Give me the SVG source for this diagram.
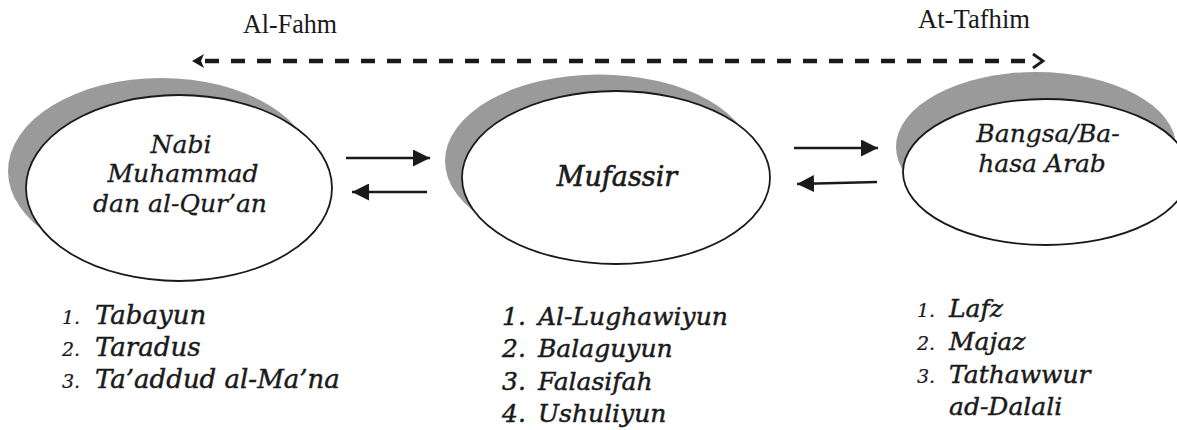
<svg xmlns="http://www.w3.org/2000/svg" width="1177" height="430" viewBox="0 0 1177 430">
<style>
.shadow{fill:#9a9a9a;stroke:none}
.node{fill:#fff;stroke:#1a1a1a;stroke-width:1.8}
.nt{font-family:"DejaVu Serif",serif;font-style:italic;font-size:25px;fill:#1a1a1a;stroke:#1a1a1a;stroke-width:0.3;text-anchor:middle}
.lt{font-family:"DejaVu Serif",serif;font-style:italic;font-size:25px;fill:#1a1a1a;stroke:#1a1a1a;stroke-width:0.45}
.num{font-size:19px;stroke-width:0.2}
.top{font-family:"Liberation Serif",serif;font-size:27px;fill:#1a1a1a}
.arr{stroke:#1a1a1a;stroke-width:2.4;fill:none}
.dash{stroke:#1a1a1a;stroke-width:4.5;fill:none;stroke-dasharray:14 12}
</style>
<defs>
<marker id="ah2" viewBox="0 0 10 10" refX="10" refY="5" markerWidth="17" markerHeight="17" markerUnits="userSpaceOnUse" orient="auto">
<path d="M0,0 L10,5 L0,10 z" fill="#1a1a1a"/>
</marker>
</defs>

<g id="node-nabi">
<ellipse class="shadow" cx="161" cy="171" rx="153" ry="93"/>
<ellipse class="node" cx="179" cy="188" rx="153" ry="93"/>
<text class="nt" x="181" y="153">Nabi</text>
<text class="nt" x="183" y="182">Muhammad</text>
<text class="nt" x="180" y="212">dan al-Qur’an</text>
</g>

<g id="node-mufassir">
<ellipse class="shadow" cx="599" cy="161" rx="154" ry="86.5"/>
<ellipse class="node" cx="616" cy="177.5" rx="154" ry="86.5"/>
<text class="nt" x="617" y="186" style="font-size:27px;stroke-width:0.6">Mufassir</text>
</g>

<g id="node-bangsa">
<ellipse class="shadow" cx="1036" cy="147" rx="140" ry="75"/>
<ellipse class="node" cx="1046" cy="172" rx="143" ry="73"/>
<text class="nt" x="1048" y="142">Bangsa/Ba-</text>
<text class="nt" x="1042" y="172">hasa Arab</text>
</g>

<g id="connectors">
<line class="dash" x1="205" y1="61" x2="1032" y2="61"/>
<path d="M204,54 L192,61 L204,68 L201,61 z" fill="#1a1a1a"/>
<path d="M1033,54 L1043,61 L1033,68" fill="none" stroke="#1a1a1a" stroke-width="2.8"/>
<line class="arr" x1="346" y1="158" x2="430" y2="158" marker-end="url(#ah2)"/>
<line class="arr" x1="427" y1="192" x2="352" y2="192" marker-end="url(#ah2)"/>
<line class="arr" x1="794" y1="148" x2="878" y2="148" marker-end="url(#ah2)"/>
<line class="arr" x1="877" y1="182" x2="797" y2="184" marker-end="url(#ah2)"/>
</g>

<g id="labels">
<text class="top" x="243" y="33" textLength="94" lengthAdjust="spacingAndGlyphs">Al-Fahm</text>
<text class="top" x="918" y="28" textLength="112" lengthAdjust="spacingAndGlyphs">At-Tafhim</text>
</g>

<g id="list-nabi" style="font-size:26px">
<text class="lt" x="62" y="324" style="font-size:26px"><tspan class="num">1.</tspan><tspan x="95">Tabayun</tspan></text>
<text class="lt" x="62" y="356" style="font-size:26px"><tspan class="num">2.</tspan><tspan x="95">Taradus</tspan></text>
<text class="lt" x="62" y="388" style="font-size:26px"><tspan class="num">3.</tspan><tspan x="95">Ta’addud al-Ma’na</tspan></text>
</g>

<g id="list-mufassir">
<text class="lt" x="502" y="325">1.<tspan x="538">Al-Lughawiyun</tspan></text>
<text class="lt" x="502" y="357">2.<tspan x="538">Balaguyun</tspan></text>
<text class="lt" x="502" y="390">3.<tspan x="538">Falasifah</tspan></text>
<text class="lt" x="502" y="422">4.<tspan x="538">Ushuliyun</tspan></text>
</g>

<g id="list-bangsa">
<text class="lt" x="917" y="317"><tspan class="num">1.</tspan><tspan x="949">Lafz</tspan></text>
<text class="lt" x="917" y="350"><tspan class="num">2.</tspan><tspan x="949">Majaz</tspan></text>
<text class="lt" x="917" y="383"><tspan class="num">3.</tspan><tspan x="949">Tathawwur</tspan></text>
<text class="lt" x="949" y="415">ad-Dalali</text>
</g>
</svg>
